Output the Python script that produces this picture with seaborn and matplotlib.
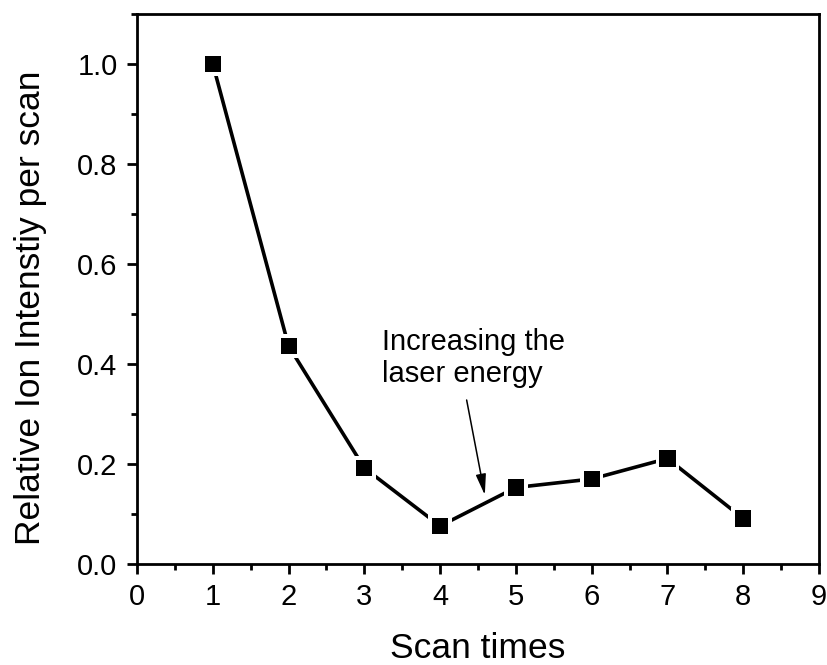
import matplotlib
matplotlib.use("Agg")
import matplotlib.pyplot as plt
import seaborn as sns
import pandas as pd
from matplotlib.ticker import MultipleLocator

scan_times = [1, 2, 3, 4, 5, 6, 7, 8]
intensity = [1.0, 0.436, 0.192, 0.076, 0.153, 0.170, 0.211, 0.091]
x_ticks = [0, 1, 2, 3, 4, 5, 6, 7, 8, 9]
y_ticks = [0.0, 0.2, 0.4, 0.6, 0.8, 1.0]
annotation_text = "Increasing the\nlaser energy"

df = pd.DataFrame({"Scan times": scan_times, "Intensity": intensity})

sns.set_style("ticks")
plt.rcParams["font.family"] = ["Liberation Sans", "DejaVu Sans"]
plt.rcParams["text.color"] = "black"
plt.rcParams["axes.labelcolor"] = "black"
plt.rcParams["xtick.color"] = "black"
plt.rcParams["ytick.color"] = "black"

fig = plt.figure(figsize=(8.27, 6.65), dpi=100)
ax = fig.add_axes([0.1657, 0.1519, 0.8246, 0.8270])

sns.lineplot(data=df, x="Scan times", y="Intensity", ax=ax, color="black",
             linewidth=2.6, zorder=2)
sns.scatterplot(data=df, x="Scan times", y="Intensity", ax=ax, marker="s",
                s=290, color="white", edgecolor="none", linewidth=0, zorder=3)
sns.scatterplot(data=df, x="Scan times", y="Intensity", ax=ax, marker="s",
                s=135, color="black", edgecolor="none", linewidth=0, zorder=4)

ax.set_xlim(0, 9)
ax.set_ylim(0, 1.1)
ax.set_xticks(x_ticks)
ax.set_xticklabels([str(t) for t in x_ticks])
ax.set_yticks(y_ticks)
ax.set_yticklabels([f"{t:.1f}" for t in y_ticks])
ax.xaxis.set_minor_locator(MultipleLocator(0.5))
ax.yaxis.set_minor_locator(MultipleLocator(0.1))

ax.tick_params(which="major", direction="out", length=7, width=2.0,
               labelsize=21, pad=7, colors="black")
ax.tick_params(which="minor", direction="out", length=4, width=2.0)
ax.tick_params(top=False, right=False, which="both")
for sp in ax.spines.values():
    sp.set_visible(True)
    sp.set_linewidth(2.0)
    sp.set_color("black")

ax.set_xlabel("Scan times", fontsize=25.5, labelpad=15)
ax.set_ylabel("Relative Ion Intenstiy per scan", fontsize=25.5, labelpad=22)
ax.yaxis.label.set_y(0.465)

ax.text(3.23, 0.412, annotation_text, fontsize=21, ha="left", va="center",
        linespacing=1.15)
ax.annotate("", xy=(4.59, 0.138), xytext=(4.35, 0.328),
            arrowprops=dict(arrowstyle="-|>,head_length=0.9,head_width=0.22",
                            color="black", lw=1.1,
                            shrinkA=0, shrinkB=0, mutation_scale=14))

fig.savefig("out.png", dpi=100)
